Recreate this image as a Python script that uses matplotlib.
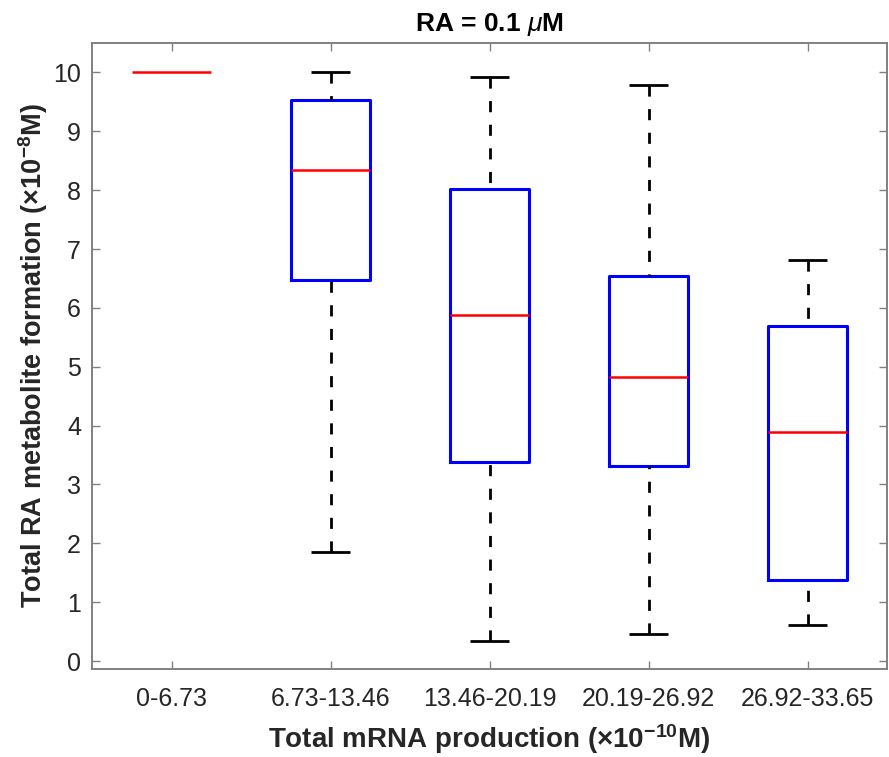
import numpy as np
import matplotlib
matplotlib.use("Agg")
import matplotlib.pyplot as plt

plt.rcParams['font.family'] = ['Liberation Sans', 'DejaVu Sans']
plt.rcParams['mathtext.fontset'] = 'custom'
plt.rcParams['mathtext.rm'] = 'Liberation Sans'
plt.rcParams['mathtext.bf'] = 'Liberation Sans:bold'
plt.rcParams['mathtext.it'] = 'Liberation Sans:italic'

# bins of total mRNA production and the box statistics
categories = ["0-6.73", "6.73-13.46", "13.46-20.19", "20.19-26.92", "26.92-33.65"]
whisker_low = [10.0, 1.86, 0.34, 0.46, 0.61]
quart_low = [10.0, 6.47, 3.38, 3.31, 1.37]
medians = [10.0, 8.34, 5.88, 4.83, 3.89]
quart_high = [10.0, 9.54, 8.02, 6.55, 5.69]
whisker_high = [10.0, 10.0, 9.93, 9.78, 6.82]

stats = []
for i in range(len(categories)):
    stats.append(dict(label=categories[i], whislo=whisker_low[i], q1=quart_low[i],
                      med=medians[i], q3=quart_high[i], whishi=whisker_high[i], fliers=[]))

fig = plt.figure(figsize=(8.89, 7.57), dpi=100)
ax = fig.add_axes([92 / 889, 1 - 668.7 / 757, 795 / 889, (668.7 - 43) / 757])

positions = np.arange(1, len(categories) + 1)
res = ax.bxp(stats, positions=positions, widths=0.5, showfliers=False,
             boxprops=dict(color='blue', linewidth=2.2),
             medianprops=dict(color='red', linewidth=1.8, solid_capstyle='butt', zorder=5),
             whiskerprops=dict(color='black', linewidth=2.0, linestyle=(0, (4, 4.5))),
             capprops=dict(color='black', linewidth=2.0, solid_capstyle='butt'),
             capwidths=0.25)

# MATLAB draws the whisker starting at the cap
for w in res['whiskers']:
    w.set_ydata(w.get_ydata()[::-1])
    w.set_dash_capstyle('butt')

# a box with no spread shows only its median line
for i, st in enumerate(stats):
    if st['whislo'] == st['whishi']:
        res['boxes'][i].set_visible(False)
        for k in (2 * i, 2 * i + 1):
            res['caps'][k].set_visible(False)
            res['whiskers'][k].set_visible(False)

ax.set_xlim(0.5, 5.5)
ax.set_ylim(-0.13, 10.5)
ax.set_yticks(np.arange(0, 11, 1))
ax.set_xticks(positions)
ax.set_xticklabels(categories)

grey = '#808080'
for s in ax.spines.values():
    s.set_color(grey)
    s.set_linewidth(1.4)
ax.tick_params(direction='in', length=5.5, width=1.0, color=grey, labelcolor='#262626',
               labelsize=18, top=True, right=True)
ax.tick_params(axis='x', pad=13)
ax.tick_params(axis='y', pad=8)

ax.set_xlabel(r'Total mRNA production (×10$^{\mathbf{-10}}$M)', fontsize=20,
              fontweight='bold', color='#262626', labelpad=8)
ax.set_ylabel(r'Total RA metabolite formation (×10$^{\mathbf{-8}}$M)', fontsize=19.5,
              fontweight='bold', color='#262626', labelpad=2)
ax.set_title(r'RA = 0.1 $\mu$M', fontsize=19, fontweight='bold', color='black', pad=9)

fig.savefig("out.png", dpi=100)
